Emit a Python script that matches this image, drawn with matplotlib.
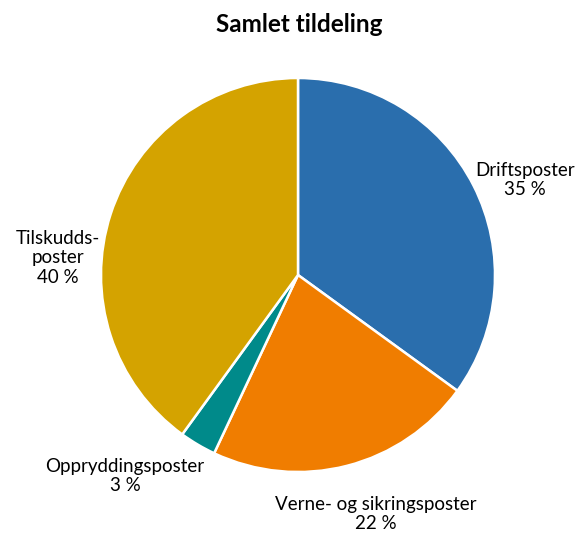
import matplotlib
matplotlib.use("Agg")
import matplotlib.pyplot as plt

plt.rcParams['font.family'] = ['Lato', 'DejaVu Sans']

categories = ["Driftsposter", "Verne- og sikringsposter", "Oppryddingsposter", "Tilskuddsposter"]
label_texts = ["Driftsposter\n35 %", "Verne- og sikringsposter\n22 %", "Oppryddingsposter\n3 %", "Tilskudds-\nposter\n40 %"]
values = [35, 22, 3, 40]
colors = ["#2a6ead", "#f07d00", "#008a8a", "#d4a300"]

W, H = 579, 535
fig = plt.figure(figsize=(W / 100, H / 100), dpi=100)
cx, cy, r = 298, 275, 197
ax = fig.add_axes([(cx - r) / W, 1 - (cy + r) / H, 2 * r / W, 2 * r / H])
ax.pie(values, colors=colors, startangle=90, counterclock=False,
       wedgeprops=dict(edgecolor="white", linewidth=1.8))
ax.set_aspect("equal")
ax.set_xlim(-1, 1)
ax.set_ylim(-1, 1)

fig.text(299 / W, 1 - 25 / H, "Samlet tildeling", ha="center", va="center",
         fontsize=17.5, fontweight="bold")

label_pos = [(525, 180), (376, 514), (125, 476), (58, 258)]
for txt, (x, y) in zip(label_texts, label_pos):
    fig.text(x / W, 1 - y / H, txt, ha="center", va="center", fontsize=13.5,
             linespacing=1.2)

fig.savefig("out.png", dpi=100)
